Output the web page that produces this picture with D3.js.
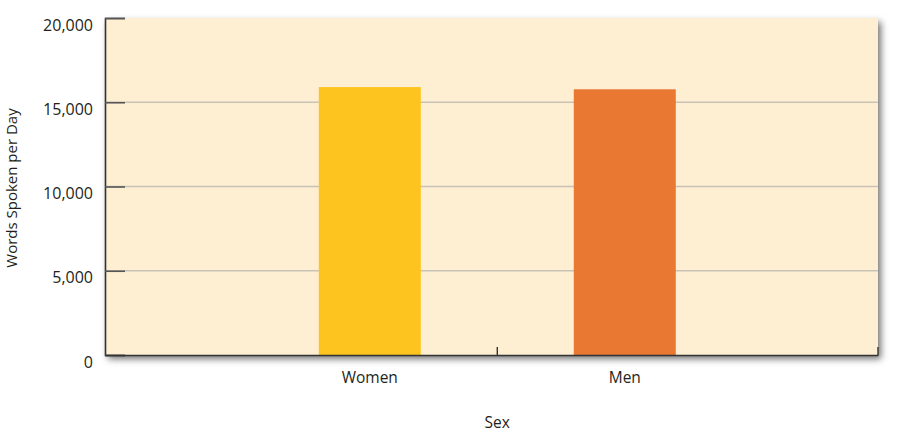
<!DOCTYPE html>
<html>
<head>
<meta charset="utf-8">
<script src="https://cdn.jsdelivr.net/npm/d3@7.9.0/dist/d3.min.js"></script>
<style>
  body { margin: 0; background: #fff; }
  svg { display: block; font-family: 'Open Sans', sans-serif; }
</style>
</head>
<body>
<svg id="chart" width="900" height="433"></svg>
<script>
const categories = ['Women', 'Men'];
const wordsPerDay = [15900, 15770];
const yTicks = [0, 5000, 10000, 15000, 20000];

const margin = { top: 18, right: 22, bottom: 78, left: 105 };
const width = 900, height = 433;
const svg = d3.select('#chart');

const x = d3.scaleBand()
  .domain(categories)
  .range([margin.left, width - margin.right])
  .paddingInner(0)
  .paddingOuter(0.5157)
  .align(0.522);

const y = d3.scaleLinear()
  .domain([0, 20000])
  .range([height - margin.bottom, margin.top]);

const defs = svg.append('defs');
const shadow = defs.append('filter').attr('id', 'shadow')
  .attr('x', '-5%').attr('y', '-10%').attr('width', '110%').attr('height', '125%');
shadow.append('feDropShadow')
  .attr('dx', 3).attr('dy', 4).attr('stdDeviation', 3.5)
  .attr('flood-color', '#000').attr('flood-opacity', 0.55);

// plot background with shadow
svg.append('rect')
  .attr('x', margin.left)
  .attr('y', margin.top)
  .attr('width', width - margin.left - margin.right)
  .attr('height', height - margin.top - margin.bottom)
  .attr('fill', '#feeed2')
  .attr('filter', 'url(#shadow)');

// gridlines
svg.append('g')
  .selectAll('line')
  .data(yTicks.filter((d) => d > 0 && d < 20000))
  .join('line')
  .attr('x1', margin.left)
  .attr('x2', width - margin.right)
  .attr('y1', (d) => y(d))
  .attr('y2', (d) => y(d))
  .attr('stroke', '#c9c3b6')
  .attr('stroke-width', 1.3);

// bars
const colors = ['#fdc41f', '#e97832'];
const barW = x.step() * 0.4;
svg.append('g')
  .selectAll('rect')
  .data(categories)
  .join('rect')
  .attr('x', (d) => x(d) + (x.bandwidth() - barW) / 2)
  .attr('y', (d, i) => y(wordsPerDay[i]))
  .attr('width', barW)
  .attr('height', (d, i) => y(0) - y(wordsPerDay[i]))
  .attr('fill', (d, i) => colors[i]);

// y axis
const yAxis = svg.append('g')
  .attr('transform', `translate(${margin.left},0)`)
  .call(d3.axisRight(y).tickValues(yTicks).tickSize(20).tickFormat(''));
yAxis.select('.domain').attr('stroke', '#333').attr('stroke-width', 1.6);
yAxis.selectAll('.tick line').attr('stroke', '#555').attr('stroke-width', 1.6);

svg.append('g')
  .selectAll('text')
  .data(yTicks)
  .join('text')
  .attr('x', 93)
  .attr('y', (d) => y(d) + 7)
  .attr('dy', '0.35em')
  .attr('text-anchor', 'end')
  .attr('fill', '#231f20')
  .attr('font-size', 16)
  .text((d) => d3.format(',')(d));

// x axis
const xAxis = svg.append('g')
  .attr('transform', `translate(0,${y(0)})`)
  .call(d3.axisTop(x).tickSize(0).tickFormat(''));
xAxis.select('.domain').attr('stroke', '#333').attr('stroke-width', 1.6);

const boundaries = [x('Men'), width - margin.right];
svg.append('g')
  .selectAll('line')
  .data(boundaries)
  .join('line')
  .attr('x1', (d) => d)
  .attr('x2', (d) => d)
  .attr('y1', y(0))
  .attr('y2', y(0) - 8)
  .attr('stroke', '#333')
  .attr('stroke-width', 1.4);

svg.append('g')
  .selectAll('text')
  .data(categories)
  .join('text')
  .attr('x', (d) => x(d) + x.bandwidth() / 2)
  .attr('y', 378)
  .attr('dy', '0.35em')
  .attr('text-anchor', 'middle')
  .attr('fill', '#231f20')
  .attr('font-size', 15.5)
  .text((d) => d);

svg.append('text')
  .attr('x', x('Men'))
  .attr('y', 423)
  .attr('dy', '0.35em')
  .attr('text-anchor', 'middle')
  .attr('fill', '#231f20')
  .attr('font-size', 15.5)
  .text('Sex');

svg.append('text')
  .attr('transform', `translate(12,${188}) rotate(-90)`)
  .attr('dy', '0.35em')
  .attr('text-anchor', 'middle')
  .attr('fill', '#231f20')
  .attr('font-size', 15)
  .text('Words Spoken per Day');
</script>
</body>
</html>
